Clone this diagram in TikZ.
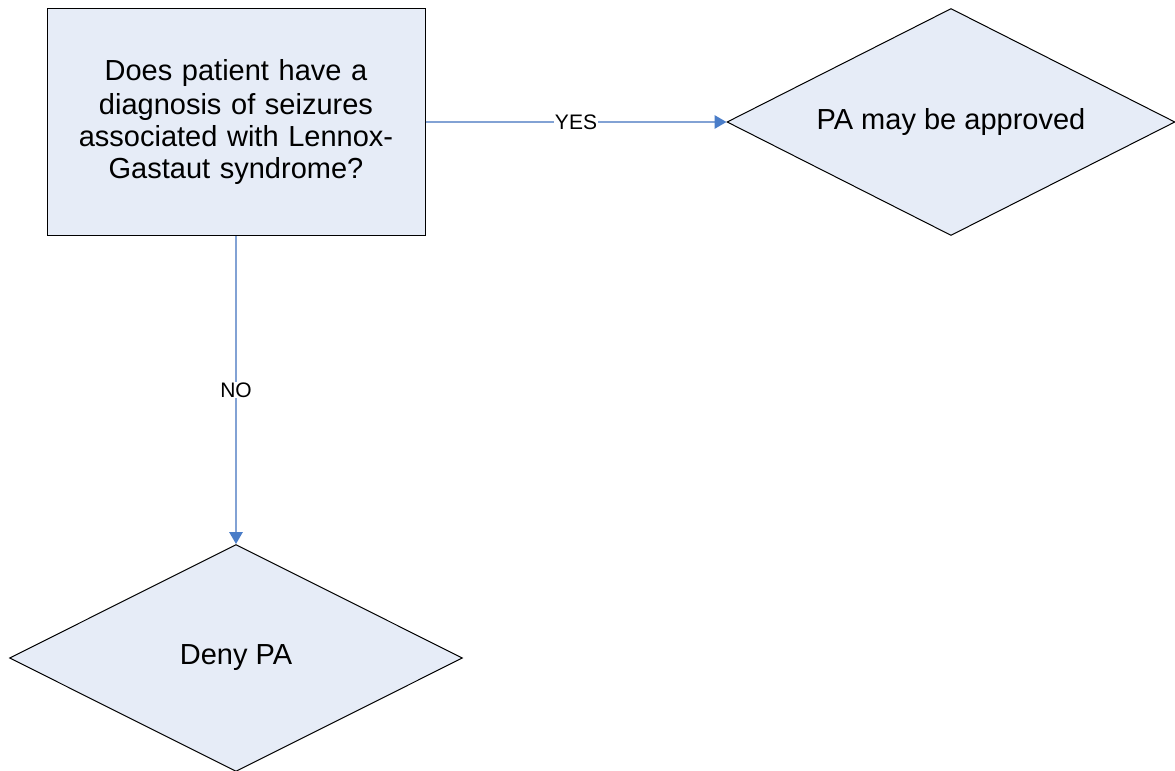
\documentclass[tikz,border=0pt]{standalone}
\usepackage{fontspec}
\setmainfont{Liberation Sans}
\usetikzlibrary{shapes.geometric,arrows.meta,positioning}
\definecolor{boxfill}{RGB}{230, 236, 247}
\definecolor{linkblue}{RGB}{130, 162, 212}
\definecolor{tipblue}{RGB}{74, 125, 200}

\begin{document}
\begin{tikzpicture}[
  x=0.75pt, y=-0.75pt,
  question/.style={
    draw=black,
    fill=boxfill,
    line width=0.75pt,
    minimum width=283.5pt,
    minimum height=170.25pt,
    text width=250pt,
    align=center,
    inner sep=0pt,
    font=\fontsize{21.75}{24}\selectfont
  },
  outcome/.style={
    diamond,
    aspect=1.97,
    draw=black,
    fill=boxfill,
    line width=0.75pt,
    minimum width=336pt,
    minimum height=170.25pt,
    inner sep=0pt,
    font=\fontsize{21.75}{24}\selectfont
  },
  link/.style={
    draw=linkblue,
    line width=1.5pt,
    -{Triangle[length=9pt,width=10pt,fill=tipblue,color=tipblue]}
  },
  answer/.style={
    fill=white,
    inner sep=0.5pt,
    font=\fontsize{15.75}{18}\selectfont
  }
]
  \useasboundingbox (0,0) rectangle (1175,771);

  % Decision
  \node[question] (q1) at (236, 122) {\vspace*{2pt}Does patient have a diagnosis of seizures associated with Lennox-Gastaut syndrome?};

  % Outcomes
  \node[outcome] (approve) at (951, 122) {\raisebox{-2pt}{PA may be approved}};
  \node[outcome, minimum width=339.75pt] (deny) at (236, 658) {Deny PA};

  \draw[link] (q1.east) -- node[answer] {YES} (approve.west);
  \draw[link] (q1.south) -- node[answer, pos=0.5] {NO} (deny.north);

\end{tikzpicture}
\end{document}
